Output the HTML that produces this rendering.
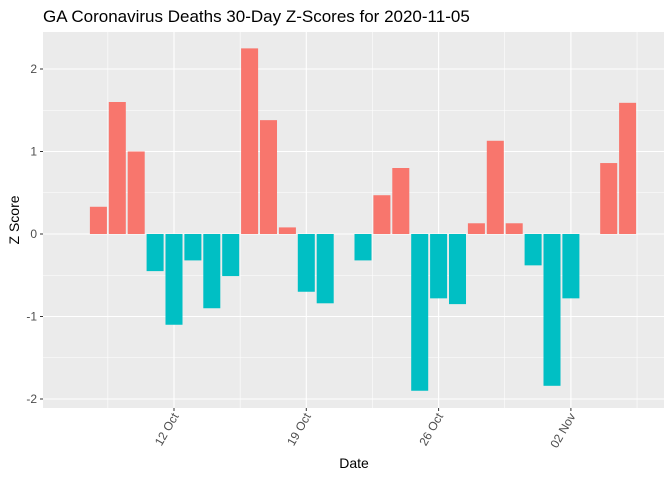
<!DOCTYPE html>
<html><head><meta charset="utf-8"><style>
body{margin:0;background:#fff;}
text{font-family:"Liberation Sans",sans-serif;}
</style></head><body>
<svg id="chart" width="672" height="480" xmlns="http://www.w3.org/2000/svg">
<rect x="0" y="0" width="672" height="480" fill="#fff"/>
<text x="43" y="22" font-size="17" fill="#000">GA Coronavirus Deaths 30-Day Z-Scores for 2020-11-05</text>
<rect x="43" y="32" width="621" height="376" fill="#ebebeb"/>
<g id="grid"></g>
<g id="bars"></g>
<g id="axes"></g>
<text x="354" y="468" font-size="14" text-anchor="middle" fill="#000">Date</text>
<text transform="translate(19,220) rotate(-90)" font-size="14" text-anchor="middle" fill="#000">Z Score</text>
</svg>
<script>
const dayIndex=[8,9,10,11,12,13,14,15,16,17,18,19,20,22,23,24,25,26,27,28,29,30,31,32,33,35,36];
const zScores=[0.33,1.6,1.0,-0.45,-1.1,-0.32,-0.9,-0.51,2.25,1.38,0.08,-0.7,-0.84,-0.32,0.47,0.8,-1.9,-0.78,-0.85,0.13,1.13,0.13,-0.38,-1.84,-0.78,0.86,1.59];
const yTicks=[-2,-1,0,1,2];
const xTickDays=[12,19,26,33];
const xTickLabels=["12 Oct","19 Oct","26 Oct","02 Nov"];
const NS="http://www.w3.org/2000/svg";
const x=d=>174+18.9*(d-12);
const y=v=>234-82.5*v;
function mk(t,a,p){const e=document.createElementNS(NS,t);for(const k in a)e.setAttribute(k,a[k]);p.appendChild(e);return e;}
const grid=document.getElementById('grid'),bars=document.getElementById('bars'),axes=document.getElementById('axes');
for(let v=-2.5;v<=2.5;v+=0.5){const yy=y(v);if(yy<32||yy>408)continue;const major=Number.isInteger(v);
const l=mk('line',{x1:43,x2:664,y1:yy,y2:yy,stroke:'#fff','stroke-width':major?1.1:0.55},grid);

}
for(let d=xTickDays[0]-3.5;d<=xTickDays[xTickDays.length-1]+3.5;d+=3.5){const xx=x(d);if(xx<43||xx>664)continue;const major=xTickDays.includes(d);
const l=mk('line',{x1:xx,x2:xx,y1:32,y2:408,stroke:'#fff','stroke-width':major?1.1:0.55},grid);

}
dayIndex.forEach((d,i)=>{const v=zScores[i];const w=18.9*0.9;
const r=mk('rect',{x:x(d)-w/2,y:Math.min(y(v),y(0)),width:w,height:Math.abs(y(v)-y(0)),fill:v>=0?'#F8766D':'#00BFC4'},bars);

});
yTicks.forEach(v=>{const yy=y(v);
mk('line',{x1:40,x2:43,y1:yy,y2:yy,stroke:'#333'},axes);
const t=mk('text',{x:37,y:yy+4,'font-size':12,'text-anchor':'end',fill:'#4d4d4d'},axes);t.textContent=v;

});
xTickDays.forEach((d,i)=>{const xx=x(d);
mk('line',{x1:xx,x2:xx,y1:408,y2:411,stroke:'#333'},axes);
const t=mk('text',{transform:`translate(${xx+5},416) rotate(-60)`,'font-size':12,'text-anchor':'end',fill:'#4d4d4d'},axes);t.textContent=xTickLabels[i];

});
</script>
</body></html>
